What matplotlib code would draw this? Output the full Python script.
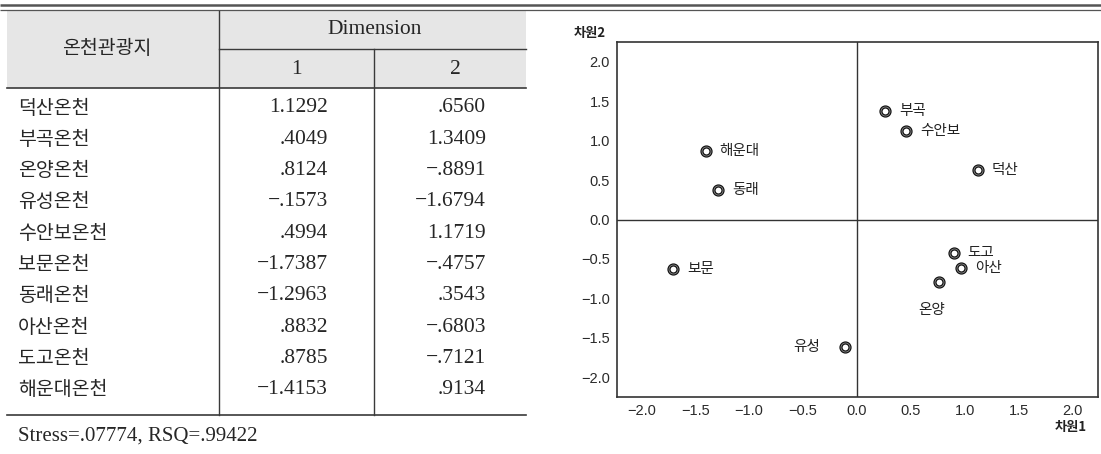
import matplotlib
matplotlib.use("Agg")
import matplotlib.pyplot as plt
from matplotlib.ticker import FuncFormatter

# ---- data -------------------------------------------------------------
spa_names = ["덕산온천", "부곡온천", "온양온천", "유성온천", "수안보온천",
             "보문온천", "동래온천", "아산온천", "도고온천", "해운대온천"]
dim1_text = ["1.1292", ".4049", ".8124", "−.1573", ".4994",
             "−1.7387", "−1.2963", ".8832", ".8785", "−1.4153"]
dim2_text = [".6560", "1.3409", "−.8891", "−1.6794", "1.1719",
             "−.4757", ".3543", "−.6803", "−.7121", ".9134"]
fit_note = "Stress=.07774, RSQ=.99422"

# stimulus configuration as plotted on the map
map_labels = ["덕산", "부곡", "온양", "유성", "수안보",
              "보문", "동래", "아산", "도고", "해운대"]
map_x = [1.123, 0.259, 0.759, -0.111, 0.454, -1.706, -1.284, 0.963, 0.898, -1.401]
map_y = [0.633, 1.371, -0.789, -1.616, 1.118, -0.624, 0.371, -0.620, -0.422, 0.865]
axis_ticks = [-2.0, -1.5, -1.0, -0.5, 0.0, 0.5, 1.0, 1.5, 2.0]

# ---- figure -----------------------------------------------------------
W, H = 1101, 454
fig = plt.figure(figsize=(W / 100, H / 100), dpi=100)
fig.patch.set_facecolor("white")

# pixel-space canvas for the table
bg = fig.add_axes([0, 0, 1, 1])
bg.set_xlim(0, W)
bg.set_ylim(H, 0)
bg.axis("off")

KR = "Noto Sans CJK KR"
SERIF = ["Liberation Serif", "DejaVu Serif"]
line_c = "#3a3a3a"
text_c = "#262626"

# double rule across the top
bg.plot([0, W], [5, 5], color="#555555", lw=1.8, solid_capstyle="butt")
bg.plot([0, W], [9.6, 9.6], color="#555555", lw=0.9, solid_capstyle="butt")

# table geometry
tl, tr = 7, 526
c1, c2 = 219, 373.5
head_top, head_mid, head_bot = 10.5, 49, 88
bottom = 415

bg.fill_between([tl, tr], head_top, head_bot, color="#e6e6e6", lw=0)
bg.plot([tl, tr], [head_bot, head_bot], color=line_c, lw=1.2)
bg.plot([c1, tr], [head_mid, head_mid], color=line_c, lw=1.0)
bg.plot([tl, tr], [bottom, bottom], color=line_c, lw=1.2)
bg.plot([c1, c1], [head_top, bottom], color=line_c, lw=1.0)
bg.plot([c2, c2], [head_mid, bottom], color=line_c, lw=1.0)

bg.text(107, 49, "온천관광지", family=KR, fontsize=14, color=text_c,
        ha="center", va="center")
bg.text(375, 29, "Dimension", family=SERIF, fontsize=15.5, color=text_c,
        ha="center", va="center")
bg.text(296, 69, "1", family=SERIF, fontsize=15.5, color=text_c,
        ha="center", va="center")
bg.text(455, 69, "2", family=SERIF, fontsize=15.5, color=text_c,
        ha="center", va="center")

row0, row_step = 108, 31.3
for i, (name, d1, d2) in enumerate(zip(spa_names, dim1_text, dim2_text)):
    y = row0 + i * row_step
    bg.text(18, y, name, family=KR, fontsize=14, color=text_c,
            ha="left", va="center")
    bg.text(328, y, d1, family=SERIF, fontsize=15.5, color=text_c,
            ha="right", va="center")
    bg.text(486, y, d2, family=SERIF, fontsize=15.5, color=text_c,
            ha="right", va="center")

bg.text(18, 436, fit_note, family=SERIF, fontsize=15, color=text_c,
        ha="left", va="center")

# ---- MDS map ----------------------------------------------------------
ax_l, ax_r, ax_t, ax_b = 617, 1098, 42, 397
ax = fig.add_axes([ax_l / W, 1 - ax_b / H, (ax_r - ax_l) / W, (ax_b - ax_t) / H])
ax.set_xlim(-2.225, 2.235)
ax.set_ylim(-2.25, 2.25)
for s in ax.spines.values():
    s.set_color("#333333")
    s.set_linewidth(1.2)
ax.axhline(0, color="#333333", lw=1.0, zorder=1)
ax.axvline(0, color="#333333", lw=1.0, zorder=1)

fmt = FuncFormatter(lambda v, _: f"{v:.1f}".replace("-", "\u2212"))
ax.set_xticks(axis_ticks)
ax.set_yticks(axis_ticks)
ax.xaxis.set_major_formatter(fmt)
ax.yaxis.set_major_formatter(fmt)
ax.tick_params(length=0, labelsize=10.5, labelcolor="#2a2a2a", pad=5)
for lab in ax.get_xticklabels() + ax.get_yticklabels():
    lab.set_family(["Liberation Sans", "DejaVu Sans"])

ax.plot(map_x, map_y, linestyle="none", marker="o", ms=6.5, mfc="white",
        mec="#111111", mew=2.3, zorder=3)
ax.plot(map_x, map_y, linestyle="none", marker="o", ms=6.5, mfc="none",
        mec="#8a8a8a", mew=0.6, zorder=4)

label_style = dict(family=KR, fontsize=10.5, color="#222222")
for name, x, y in zip(map_labels, map_x, map_y):
    if name == "온양":
        ax.annotate(name, (x, y), xytext=(-5, -20), textcoords="offset points",
                    ha="center", va="center", **label_style)
    elif name == "유성":
        ax.annotate(name, (x, y), xytext=(-18, 0), textcoords="offset points",
                    ha="right", va="center", **label_style)
    else:
        ax.annotate(name, (x, y), xytext=(10, 0), textcoords="offset points",
                    ha="left", va="center", **label_style)

bg.text(590, 33, "차원2", family=KR, fontsize=9.5, fontweight="bold",
        color="#222222", ha="center", va="center")
bg.text(1071, 427, "차원1", family=KR, fontsize=9.5, fontweight="bold",
        color="#222222", ha="center", va="center")

fig.savefig("out.png", dpi=100, facecolor="white")
